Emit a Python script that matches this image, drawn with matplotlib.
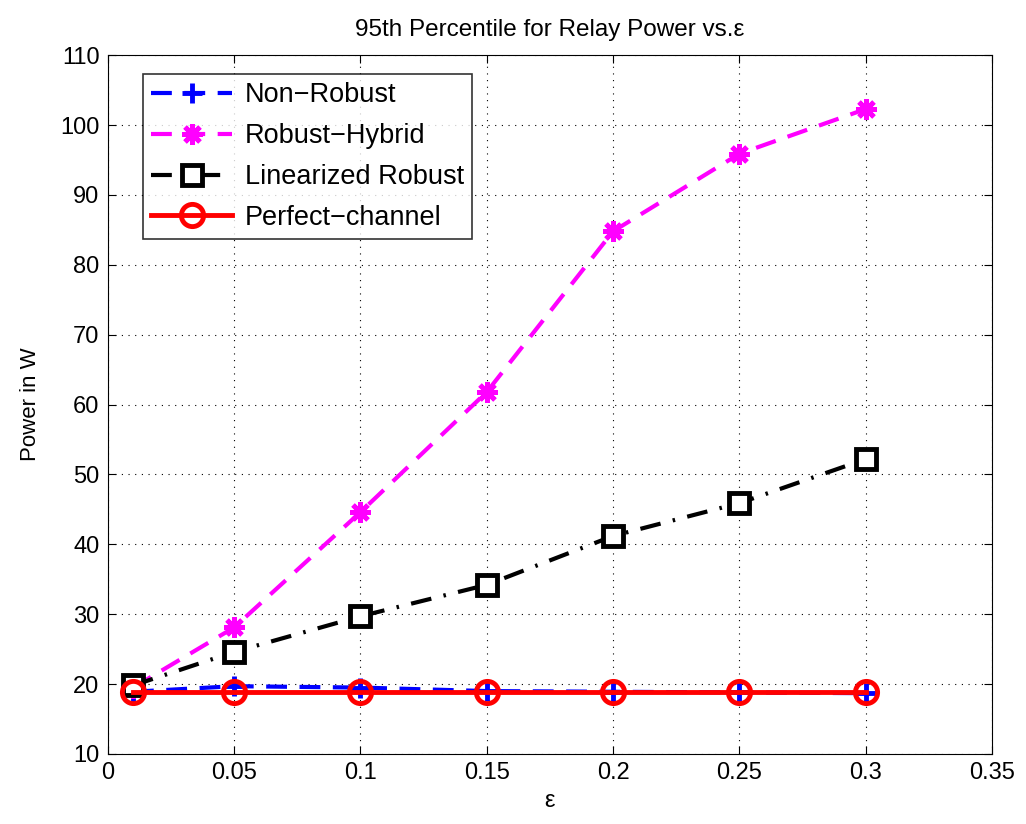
import matplotlib
matplotlib.use("Agg")
import matplotlib.pyplot as plt

plt.rcParams["font.family"] = ["Liberation Sans", "DejaVu Sans"]

eps = [0.01, 0.05, 0.1, 0.15, 0.2, 0.25, 0.3]
non_robust = [18.9, 19.7, 19.5, 19.0, 18.9, 18.8, 18.7]
robust_hybrid = [19.5, 28.1, 44.6, 61.8, 84.8, 95.9, 102.3]
linearized = [19.8, 24.6, 29.7, 34.2, 41.2, 45.9, 52.2]
perfect = [18.8, 18.8, 18.8, 18.8, 18.8, 18.8, 18.8]

fig = plt.figure(figsize=(10.26, 8.24), dpi=100)
ax = fig.add_axes([0.105, 0.085, 0.862, 0.848])

ax.plot(eps, non_robust, color="blue", linestyle=(0, (5, 3)), linewidth=3,
        marker="+", markersize=15, markeredgewidth=3.5, label="Non\u2212Robust")
ax.plot(eps, robust_hybrid, color="magenta", linestyle=(0, (5, 3)), linewidth=3,
        marker=(8, 2, 0), markersize=15, markeredgewidth=3.5, label="Robust\u2212Hybrid")
ax.plot(eps, linearized, color="black", linestyle=(0, (5, 3, 0.6, 3)), linewidth=3,
        marker="s", markersize=14, markerfacecolor="white", markeredgewidth=3.5,
        label="Linearized Robust")
ax.plot(eps, perfect, color="red", linestyle="-", linewidth=3.5,
        marker="o", markersize=16, markerfacecolor="none", markeredgewidth=3.5,
        label="Perfect\u2212channel")

ax.set_xlim(0, 0.35)
ax.set_ylim(10, 110)
ax.set_xticks([0, 0.05, 0.1, 0.15, 0.2, 0.25, 0.3, 0.35])
ax.set_xticklabels(["0", "0.05", "0.1", "0.15", "0.2", "0.25", "0.3", "0.35"])
ax.set_yticks(range(10, 111, 10))
ax.tick_params(direction="in", labelsize=17, length=6, top=True, right=True, pad=6)
ax.grid(True, linestyle=(0, (1, 5)), color="black", linewidth=0.8)

ax.set_xlabel("\u03b5", fontsize=17, labelpad=4)
ax.set_ylabel("Power in W", fontsize=16, labelpad=14)
ax.set_title("95th Percentile for Relay Power vs.\u03b5", fontsize=17.5, pad=14)

leg = ax.legend(loc="upper left", bbox_to_anchor=(0.04, 0.973), borderaxespad=0,
                fontsize=19.5, frameon=True, fancybox=False, edgecolor="black",
                handlelength=3.0, borderpad=0.3, labelspacing=0.55, handletextpad=0.45)
leg.get_frame().set_linewidth(1.2)

fig.savefig("out.png", dpi=100)
